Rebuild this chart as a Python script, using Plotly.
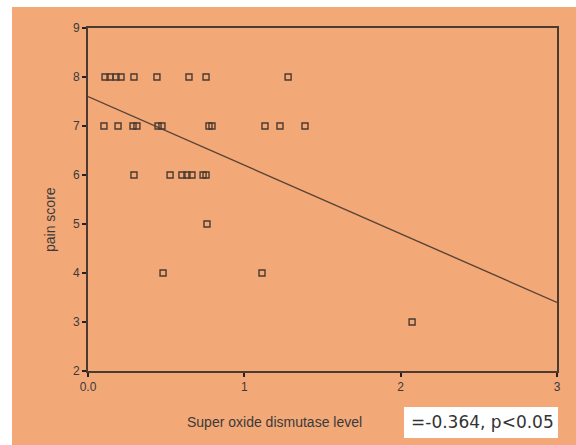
import plotly.graph_objects as go

# Data
sod_8 = [0.109, 0.141, 0.179, 0.211, 0.294, 0.441, 0.646, 0.755, 1.28]
sod_7 = [0.102, 0.192, 0.288, 0.313, 0.448, 0.473, 0.774, 0.793, 1.132, 1.228, 1.388]
sod_6 = [0.294, 0.525, 0.601, 0.633, 0.665, 0.736, 0.755]
sod_5 = [0.761]
sod_4 = [0.48, 1.113]
sod_3 = [2.073]

sod_level = sod_8 + sod_7 + sod_6 + sod_5 + sod_4 + sod_3
pain_score = ([8] * len(sod_8) + [7] * len(sod_7) + [6] * len(sod_6)
              + [5] * len(sod_5) + [4] * len(sod_4) + [3] * len(sod_3))

fit_intercept = 7.60
fit_slope = -1.40
fit_x = [0.0, 3.0]
fit_y = [fit_intercept + fit_slope * v for v in fit_x]

x_ticks = [0, 1, 2, 3]
x_tick_labels = ["0.0", "1", "2", "3"]
y_ticks = [2, 3, 4, 5, 6, 7, 8, 9]

stat_text = "=-0.364, p<0.05"

bg = "#F3A878"
ink = "#3f3630"
font = "Liberation Sans, Arial, sans-serif"

fig = go.Figure()
fig.add_trace(go.Scatter(
    x=fit_x, y=fit_y, mode="lines",
    line=dict(color="#5a4436", width=1.4), showlegend=False, hoverinfo="skip"))
fig.add_trace(go.Scatter(
    x=sod_level, y=pain_score, mode="markers",
    marker=dict(symbol="square-open", size=6, color="#4a3a30", line=dict(width=1.4, color="#4a3a30")),
    showlegend=False))

L, R, T, B = 88, 19, 28, 74
W, H = 576, 445
pw, ph = W - L - R, H - T - B

def px(xp):
    return (xp - L) / pw

def py(yp):
    return 1 - (yp - T) / ph

fig.update_layout(
    width=W, height=H,
    margin=dict(l=L, r=R, t=T, b=B),
    paper_bgcolor=bg, plot_bgcolor=bg,
    font=dict(family=font, color=ink),
    xaxis=dict(range=[0, 3], tickvals=x_ticks, ticktext=x_tick_labels,
               showgrid=False, zeroline=False, showline=True, mirror=True,
               linecolor="#4a3a30", linewidth=1.6, ticks="outside", ticklen=4,
               tickcolor="#222", tickwidth=2, tickfont=dict(size=12, color="#3a3a3a")),
    yaxis=dict(range=[2, 9], tickvals=y_ticks,
               showgrid=False, zeroline=False, showline=True, mirror=True,
               linecolor="#4a3a30", linewidth=1.6, ticks="outside", ticklen=4,
               tickcolor="#222", tickwidth=2, tickfont=dict(size=12, color="#3a3a3a")),
    shapes=[
        dict(type="rect", xref="paper", yref="paper", x0=px(-5), x1=px(12), y0=py(-5), y1=py(H + 5),
             fillcolor="white", line=dict(width=0), layer="below"),
        dict(type="rect", xref="paper", yref="paper", x0=px(-5), x1=px(W + 5), y0=py(7), y1=py(-5),
             fillcolor="white", line=dict(width=0), layer="below"),
        dict(type="rect", xref="paper", yref="paper", x0=px(404), x1=px(558), y0=py(438), y1=py(407),
             fillcolor="white", line=dict(width=0), layer="above"),
    ],
    annotations=[
        dict(text="Super oxide dismutase level", xref="paper", yref="paper",
             x=px(274), y=py(422), showarrow=False, xanchor="center", yanchor="middle",
             font=dict(size=14, color="#3a3a3a")),
        dict(text="pain score", xref="paper", yref="paper", textangle=-90,
             x=px(50), y=py(220), showarrow=False, xanchor="center", yanchor="middle",
             font=dict(size=14, color="#3a3a3a")),
        dict(text=stat_text, xref="paper", yref="paper",
             x=px(556), y=py(422), showarrow=False, xanchor="right", yanchor="middle",
             font=dict(size=17, color="#333", family="DejaVu Sans, sans-serif")),
    ],
)

fig.write_html("out.html", config={"displayModeBar": False},
               post_script="document.body.style.margin='0';document.body.style.overflow='hidden';")
